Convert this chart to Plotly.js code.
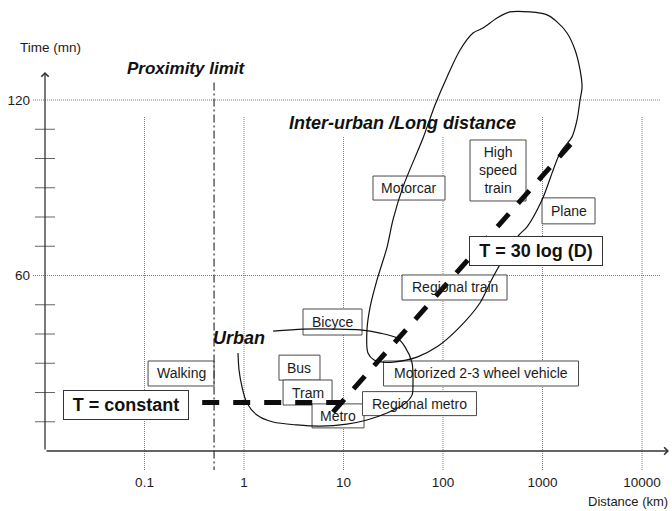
<!DOCTYPE html>
<html>
<head>
<meta charset="utf-8">
<script src="https://cdn.plot.ly/plotly-3.0.1.min.js"></script>
<style>
  html, body { margin: 0; padding: 0; background: #fff; }
  #chart { width: 672px; height: 511px; }
</style>
</head>
<body>
<div id="chart"></div>
<script>
// Travel time against distance for each transport mode (log distance axis)

// Axis ticks
const distanceTicks = [0.1, 1, 10, 100, 1000, 10000];
const distanceTickText = ['0.1', '1', '10', '100', '1000', '10000'];
const timeLabelTicks = [60, 120];
const timeLabelText = ['60', '120'];
const timeMinorTicks = [10, 20, 30, 40, 50, 70, 80, 90, 100, 110];

// Proximity limit (km) and the time span of its marker line
const proximityKm = [0.5, 0.5];
const proximityMin = [126, -6.5];

// Trend: constant time over short trips, then rising with log(distance)
const constantTrendKm = [0.38, 11.1];
const constantTrendMin = [16.6, 16.6];
const logTrendKm = [7.84, 2222];
const logTrendMin = [13.3, 107.4];

// Urban modes envelope (open curve)
const urbanKm  = [1.96, 3.92, 8.6, 14.7, 23.3, 34.5, 41.5, 48.8, 49.9, 48.8, 39.6, 27.4, 17.2, 10.8, 5.8, 3.41, 1.96, 1.35, 1.07, 0.955, 0.891, 0.87];
const urbanMin = [41.0, 41.7, 41.7, 41.4, 40.3, 38.6, 35.6, 30.1, 23.2, 19.1, 15.7, 13.0, 10.6, 9.2, 8.5, 8.9, 9.9, 12.3, 16.4, 21.9, 27.7, 33.5];

// Inter-urban / long distance envelope (closed curve)
const interKm  = [20.3, 17.6, 17.2, 18.5, 21.7, 27.4, 31.4, 39.6, 63.0, 83.1, 109.7, 148.3, 200.3, 252.5, 348.9, 471.4, 748.5, 1109, 1399, 1763, 2122, 2383, 2496, 2383, 2223, 1977, 1500, 988, 699, 567, 318, 235, 138, 87, 54.8, 31.4, 24.9, 20.3];
const interMin = [31.1, 33.5, 41.4, 49.2, 58.5, 69.7, 79.0, 90.3, 107.0, 118.3, 127.9, 137.1, 142.9, 144.6, 148.0, 150.1, 150.1, 149.1, 146.7, 142.9, 137.1, 130.3, 124.4, 120.0, 113.2, 107.4, 101.9, 85.8, 76.6, 73.5, 59.5, 50.6, 41.4, 35.6, 32.1, 30.4, 30.4, 31.1];

// Transport modes: label, typical distance (km), typical time (min)
const modeNames = ['Walking', 'Bicyce', 'Bus', 'Tram', 'Metro', 'Regional metro',
  'Motorized 2-3 wheel vehicle', 'Regional train', 'Motorcar', 'High<br>speed<br>train', 'Plane'];
const modeKm  = [0.233, 7.75, 3.61, 4.35, 8.81, 58.0, 241, 130.5, 45.5, 357, 1825];
const modeMin = [26.5, 44.1, 28.5, 20.0, 12.0, 16.2, 26.5, 55.9, 89.9, 95.9, 82.1];

// Formula boxes and region titles
const formulaNames = ['T = constant', 'T = 30 log (D)'];
const formulaKm  = [0.0652, 860];
const formulaMin = [15.7, 68.4];
const regionNames = ['Proximity limit', 'Inter-urban /Long distance', 'Urban'];
const regionKm  = [0.261, 38.7, 0.891];
const regionMin = [130.8, 112.1, 38.6];

// ---- styling / geometry ----
const FONT = '"Liberation Sans", Arial, sans-serif';
const INK = '#1c1c1c';
const W = 672, H = 511;
const MARGIN = { l: 45, r: 2, t: 5, b: 39 };
const X_RANGE = [-2, 4.281];              // log10 km
const Y_RANGE = [-7.18, 152.48];          // minutes
const pxPerDecade = (W - MARGIN.l - MARGIN.r) / (X_RANGE[1] - X_RANGE[0]);

const modeBoxPx = [[66, 25], [59, 26], [41, 25], [49, 25], [52, 24], [114, 24],
  [195, 25], [105, 25], [72, 24], [56, 61], [53, 26]];
const formulaBoxPx = [[124, 28], [132, 28]];
const regionFontSize = [17, 18, 18];

const guideStyle = { color: '#7a7a7a', width: 1, dash: '1px,1px' };
const shapes = [];

// vertical decade guides (shorter under the inter-urban title)
distanceTicks.forEach(function (d) {
  const top = (d === 10 || d === 100) ? 107.4 : 114.2;
  shapes.push({ type: 'line', xref: 'x', yref: 'y', x0: d, x1: d, y0: -6.5, y1: top,
    line: guideStyle, layer: 'below' });
});
// horizontal guides at labelled times
timeLabelTicks.forEach(function (t) {
  shapes.push({ type: 'line', xref: 'paper', yref: 'y', x0: -0.0192, x1: 0.984, y0: t, y1: t,
    line: guideStyle, layer: 'below' });
});
// tick marks crossing the time axis
timeMinorTicks.forEach(function (t) {
  shapes.push({ type: 'line', xref: 'paper', yref: 'y', x0: -0.016, x1: 0.016, y0: t, y1: t,
    line: { color: '#666', width: 1 }, layer: 'below' });
});
// white label boxes for the modes (width given in pixels, converted to decades)
modeNames.forEach(function (n, i) {
  const halfDec = (modeBoxPx[i][0] / 2) / pxPerDecade;
  const h = modeBoxPx[i][1];
  shapes.push({ type: 'rect', xref: 'x', yref: 'y', ysizemode: 'pixel',
    x0: modeKm[i] * Math.pow(10, -halfDec), x1: modeKm[i] * Math.pow(10, halfDec),
    yanchor: modeMin[i], y0: -h / 2, y1: h / 2,
    fillcolor: '#ffffff', line: { color: '#4a4a4a', width: 1 }, layer: 'below' });
});

const traces = [
  { x: proximityKm, y: proximityMin, mode: 'lines', hoverinfo: 'skip',
    line: { color: '#333', width: 1.2, dash: '8px,3px,2px,3px' } },
  { x: urbanKm, y: urbanMin, mode: 'lines', hoverinfo: 'skip',
    line: { color: '#111', width: 1.2, shape: 'spline', smoothing: 0.8 } },
  { x: interKm, y: interMin, mode: 'lines', hoverinfo: 'skip',
    line: { color: '#111', width: 1.2, shape: 'spline', smoothing: 0.8 } },
  { x: constantTrendKm, y: constantTrendMin, mode: 'lines', hoverinfo: 'skip',
    line: { color: '#0d0d0d', width: 5, dash: '17px,14px' } },
  { x: logTrendKm, y: logTrendMin, mode: 'lines', hoverinfo: 'skip',
    line: { color: '#0d0d0d', width: 5, dash: '17px,14px' } }
];

const annotations = [];
modeNames.forEach(function (n, i) {
  annotations.push({ text: n, xref: 'x', yref: 'y', x: Math.log10(modeKm[i]), y: modeMin[i],
    showarrow: false, xanchor: 'center', yanchor: 'middle',
    font: { family: FONT, size: 14, color: INK } });
});
formulaNames.forEach(function (n, i) {
  annotations.push({ text: '<b>' + n + '</b>', xref: 'x', yref: 'y',
    x: Math.log10(formulaKm[i]), y: formulaMin[i], showarrow: false,
    xanchor: 'center', yanchor: 'middle', width: formulaBoxPx[i][0], height: formulaBoxPx[i][1],
    bgcolor: '#ffffff', bordercolor: '#333', borderwidth: 1, borderpad: 0,
    font: { family: FONT, size: 18, color: '#111' } });
});
regionNames.forEach(function (n, i) {
  annotations.push({ text: '<b><i>' + n + '</i></b>', xref: 'x', yref: 'y',
    x: Math.log10(regionKm[i]), y: regionMin[i], showarrow: false,
    xanchor: 'center', yanchor: 'middle',
    font: { family: FONT, size: regionFontSize[i], color: '#111' } });
});
// axis titles
annotations.push({ text: 'Time (mn)', xref: 'paper', yref: 'y', x: 0.0088, y: 137.8,
  showarrow: false, xanchor: 'center', yanchor: 'middle', font: { family: FONT, size: 13.5, color: INK } });
annotations.push({ text: 'Distance (km)', xref: 'paper', yref: 'paper', x: 1.0, y: -0.0642,
  showarrow: false, xanchor: 'right', yanchor: 'middle', font: { family: FONT, size: 13, color: INK } });
// axis lines with arrow heads
annotations.push({ text: '', xref: 'paper', yref: 'y', x: 0, y: 129.6, ax: 0, ay: 379,
  showarrow: true, arrowhead: 4, arrowsize: 1.1, arrowwidth: 1.3, arrowcolor: '#333' });
annotations.push({ text: '', xref: 'paper', yref: 'y', x: 0.9984, y: 0, ax: -624, ay: 0,
  showarrow: true, arrowhead: 4, arrowsize: 1.1, arrowwidth: 1.3, arrowcolor: '#333' });

const layout = {
  width: W, height: H,
  margin: MARGIN,
  paper_bgcolor: '#ffffff', plot_bgcolor: 'rgba(0,0,0,0)',
  showlegend: false,
  font: { family: FONT, color: INK },
  xaxis: {
    type: 'log', range: X_RANGE, tickmode: 'array',
    tickvals: distanceTicks, ticktext: distanceTickText,
    showgrid: false, zeroline: false, showline: false, ticks: '',
    ticklabelstandoff: 0, tickfont: { family: FONT, size: 13.5, color: INK }
  },
  yaxis: {
    range: Y_RANGE, tickmode: 'array',
    tickvals: timeLabelTicks, ticktext: timeLabelText,
    showgrid: false, zeroline: false, showline: false, ticks: '',
    ticklabelstandoff: 14, tickfont: { family: FONT, size: 13.5, color: INK }
  },
  shapes: shapes,
  annotations: annotations
};

Plotly.newPlot('chart', traces, layout, { staticPlot: true, displayModeBar: false });
</script>
</body>
</html>
